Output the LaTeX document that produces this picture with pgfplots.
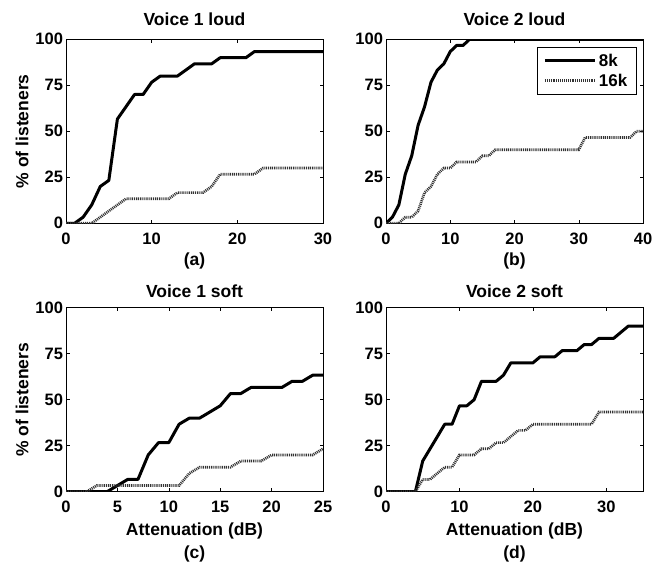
\documentclass[border=0pt]{standalone}
\usepackage{fontspec}
\setmainfont{Liberation Sans}
\usepackage{pgfplots}
\pgfplotsset{compat=1.18}
\newcommand{\lblfont}{\fontsize{17.5}{21}\selectfont\bfseries}
\pgfplotsset{
  myax/.style={
    scale only axis, width=257pt, height=184pt,
    ymin=0, ymax=100, ytick={0,25,50,75,100},
    tick align=inside, major tick length=3.5pt,
    /pgf/number format/assume math mode=true,
    tick label style={font=\fontsize{16.5}{20}\selectfont\bfseries},
    xticklabel style={yshift=-6pt},
    yticklabel style={xshift=0.5pt},
    label style={font=\lblfont},
    title style={font=\lblfont, at={(0.5,1)}, anchor=base},
    axis line style={line width=0.6pt},
    every tick/.style={black, line width=0.5pt},
  },
  toprow/.style={title style={yshift=8pt}},
  botrow/.style={title style={yshift=4.5pt}},
  s8/.style={black, line width=3pt, line join=round},
  s16/.style={black!80, line width=2.7pt, dash pattern=on 1pt off 0.9pt},
}
\begin{document}
\begin{tikzpicture}
\path[use as bounding box] (0,0) rectangle (653pt,563pt);
% (a)
\begin{axis}[myax, toprow, name=axa, at={(66pt,339.7pt)}, anchor=south west,
  xmin=0, xmax=30, xtick={0,10,20,30},
  title={Voice 1 loud}, ylabel={\% of listeners}]
\addplot[s8] coordinates {(0,0)(1,0)(2,3.33)(3,10)(4,20)(5,23.33)(6,56.67)(7,63.33)(8,70)(9,70)(10,76.67)(11,80)(12,80)(13,80)(14,83.33)(15,86.67)(16,86.67)(17,86.67)(18,90)(19,90)(20,90)(21,90)(22,93.33)(23,93.33)(24,93.33)(25,93.33)(26,93.33)(27,93.33)(28,93.33)(29,93.33)(30,93.33)};
\addplot[s16] coordinates {(0,0)(1,0)(2,0)(3,0)(4,3.33)(5,6.67)(6,10)(7,13.33)(8,13.33)(9,13.33)(10,13.33)(11,13.33)(12,13.33)(13,16.67)(14,16.67)(15,16.67)(16,16.67)(17,20)(18,26.67)(19,26.67)(20,26.67)(21,26.67)(22,26.67)(23,30)(24,30)(25,30)(26,30)(27,30)(28,30)(29,30)(30,30)};
\end{axis}
\node[anchor=base, font=\lblfont] at ([yshift=-42.7pt]axa.south) {(a)};
% (b)
\begin{axis}[myax, toprow, name=axb, at={(386pt,339.7pt)}, anchor=south west,
  xmin=0, xmax=40, xtick={0,10,20,30,40},
  title={Voice 2 loud},
  legend style={draw=black, line width=0.5pt, font=\fontsize{17}{20}\selectfont\bfseries,
    at={(0.973,0.957)}, anchor=north east, inner xsep=6pt, inner ysep=4pt,
    nodes={inner sep=2.5pt}, row sep=1pt},
  legend cell align=left,
  legend image code/.code={\draw[#1] (0pt,0pt) -- (50pt,0pt);}]
\addplot[s8] coordinates {(0,0)(1,3.33)(2,10)(3,26.67)(4,36.67)(5,53.33)(6,63.33)(7,76.67)(8,83.33)(9,86.67)(10,93.33)(11,96.67)(12,96.67)(13,100)(14,100)(20,100)(30,100)(40,100)};
\addlegendentry{8k}
\addplot[s16] coordinates {(0,0)(1,0)(2,0)(3,3.33)(4,3.33)(5,6.67)(6,16.67)(7,20)(8,26.67)(9,30)(10,30)(11,33.33)(12,33.33)(13,33.33)(14,33.33)(15,36.67)(16,36.67)(17,40)(18,40)(19,40)(20,40)(21,40)(22,40)(23,40)(24,40)(25,40)(26,40)(27,40)(28,40)(29,40)(30,40)(31,46.67)(32,46.67)(33,46.67)(34,46.67)(35,46.67)(36,46.67)(37,46.67)(38,46.67)(39,50)(40,50)};
\addlegendentry{16k}
\end{axis}
\node[anchor=base, font=\lblfont] at ([yshift=-42.7pt]axb.south) {(b)};
% (c)
\begin{axis}[myax, botrow, name=axc, at={(66pt,71.3pt)}, anchor=south west,
  xmin=0, xmax=25, xtick={0,5,10,15,20,25},
  title={Voice 1 soft}, ylabel={\% of listeners}]
\addplot[s8] coordinates {(0,0)(1,0)(2,0)(3,0)(4,0)(5,3.33)(6,6.67)(7,6.67)(8,20)(9,26.67)(10,26.67)(11,36.67)(12,40)(13,40)(14,43.33)(15,46.67)(16,53.33)(17,53.33)(18,56.67)(19,56.67)(20,56.67)(21,56.67)(22,60)(23,60)(24,63.33)(25,63.33)};
\addplot[s16] coordinates {(0,0)(1,0)(2,0)(3,3.33)(4,3.33)(5,3.33)(6,3.33)(7,3.33)(8,3.33)(9,3.33)(10,3.33)(11,3.33)(12,10)(13,13.33)(14,13.33)(15,13.33)(16,13.33)(17,16.67)(18,16.67)(19,16.67)(20,20)(21,20)(22,20)(23,20)(24,20)(25,23.33)};
\end{axis}
\node[anchor=base, font=\lblfont] at ([yshift=-43.3pt]axc.south) {Attenuation (dB)};
\node[anchor=base, font=\lblfont] at ([yshift=-66.6pt]axc.south) {(c)};
% (d)
\begin{axis}[myax, botrow, name=axd, at={(386pt,71.3pt)}, anchor=south west,
  xmin=0, xmax=35, xtick={0,10,20,30},
  title={Voice 2 soft}]
\addplot[s8] coordinates {(0,0)(1,0)(2,0)(3,0)(4,0)(5,16.67)(6,23.33)(7,30)(8,36.67)(9,36.67)(10,46.67)(11,46.67)(12,50)(13,60)(14,60)(15,60)(16,63.33)(17,70)(18,70)(19,70)(20,70)(21,73.33)(22,73.33)(23,73.33)(24,76.67)(25,76.67)(26,76.67)(27,80)(28,80)(29,83.33)(30,83.33)(31,83.33)(32,86.67)(33,90)(34,90)(35,90)};
\addplot[s16] coordinates {(0,0)(1,0)(2,0)(3,0)(4,0)(5,6.67)(6,6.67)(7,10)(8,13.33)(9,13.33)(10,20)(11,20)(12,20)(13,23.33)(14,23.33)(15,26.67)(16,26.67)(17,30)(18,33.33)(19,33.33)(20,36.67)(21,36.67)(22,36.67)(23,36.67)(24,36.67)(25,36.67)(26,36.67)(27,36.67)(28,36.67)(29,43.33)(30,43.33)(31,43.33)(32,43.33)(33,43.33)(34,43.33)(35,43.33)};
\end{axis}
\node[anchor=base, font=\lblfont] at ([yshift=-43.3pt]axd.south) {Attenuation (dB)};
\node[anchor=base, font=\lblfont] at ([yshift=-66.6pt]axd.south) {(d)};
\end{tikzpicture}
\end{document}
